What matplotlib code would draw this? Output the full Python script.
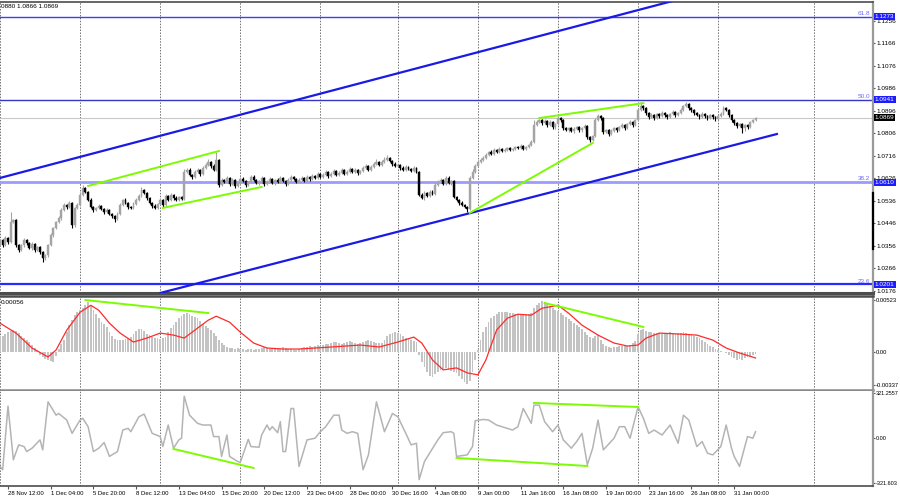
import numpy as np
import matplotlib
matplotlib.use('Agg')
import matplotlib.pyplot as plt
from matplotlib.transforms import blended_transform_factory

plt.rcParams['font.family'] = ['Liberation Sans', 'DejaVu Sans']

# H4 candles, close prices (bar -3 is the cut one at the left edge)
closes = [
    1.0378, 1.0358, 1.0386, 1.0370,
    1.0450, 1.0458,
    1.0358, 1.0338,
    1.0358, 1.0378, 1.0366, 1.0346, 1.0362, 1.0338, 1.0350, 1.0330,
    1.0306, 1.0318,
    1.0358, 1.0398, 1.0426, 1.0450, 1.0466,
    1.0499, 1.0519, 1.0511, 1.0527, 1.0438, 1.0507, 1.0519,
    1.0559, 1.0587, 1.0571,
    1.0539, 1.0511, 1.0499, 1.0507, 1.0515, 1.0503, 1.0491, 1.0499,
    1.0483, 1.0474, 1.0462, 1.0483,
    1.0519, 1.0539, 1.0527, 1.0511, 1.0507, 1.0523, 1.0539,
    1.0555, 1.0579, 1.0567, 1.0547,
    1.0527, 1.0515, 1.0507, 1.0523, 1.0539, 1.0519,
    1.0555, 1.0539, 1.0559, 1.0547, 1.0539, 1.0551, 1.0543,
    1.0651, 1.0659,
    1.0639, 1.0631, 1.0651, 1.0659, 1.0643, 1.0667, 1.0679, 1.0691, 1.0675, 1.0659, 1.0699,
    1.0599, 1.0619,
    1.0611, 1.0627, 1.0603, 1.0619, 1.0595, 1.0607, 1.0623, 1.0615, 1.0599, 1.0611,
    1.0631, 1.0619, 1.0607, 1.0615, 1.0627, 1.0603, 1.0611, 1.0623, 1.0607, 1.0619,
    1.0611, 1.0627, 1.0615, 1.0603, 1.0619, 1.0631, 1.0623, 1.0611, 1.0619,
    1.0627, 1.0615, 1.0631, 1.0623, 1.0635, 1.0627, 1.0643, 1.0631, 1.0639, 1.0651,
    1.0635, 1.0643, 1.0655, 1.0639, 1.0647, 1.0659, 1.0643, 1.0651, 1.0663, 1.0651,
    1.0659, 1.0647, 1.0655, 1.0667, 1.0675, 1.0659, 1.0671, 1.0683, 1.0691, 1.0679,
    1.0691, 1.0699, 1.0707, 1.0695, 1.0683, 1.0675, 1.0679, 1.0667, 1.0659, 1.0671,
    1.0663, 1.0655, 1.0667, 1.0651,
    1.0559,
    1.0547, 1.0567, 1.0555, 1.0571, 1.0563,
    1.0599, 1.0611, 1.0619, 1.0603, 1.0627, 1.0607, 1.0615,
    1.0551, 1.0539, 1.0527, 1.0519, 1.0511, 1.0503,
    1.0627, 1.0651,
    1.0675, 1.0691, 1.0699, 1.0707, 1.0719,
    1.0731, 1.0723, 1.0739, 1.0731, 1.0743, 1.0735, 1.0739, 1.0747, 1.0739, 1.0743,
    1.0751, 1.0747, 1.0755, 1.0743, 1.0751, 1.0759, 1.0771,
    1.0839, 1.0851,
    1.0859, 1.0847, 1.0855, 1.0839, 1.0851, 1.0831, 1.0843,
    1.0867, 1.0859,
    1.0827, 1.0819, 1.0827, 1.0815, 1.0823, 1.0831, 1.0819, 1.0827, 1.0835,
    1.0791, 1.0779, 1.0795,
    1.0859, 1.0875, 1.0867,
    1.0811, 1.0819, 1.0803, 1.0815, 1.0827, 1.0819, 1.0831, 1.0839, 1.0827, 1.0843,
    1.0851, 1.0839, 1.0859,
    1.0899, 1.0915, 1.0907, 1.0887,
    1.0871, 1.0879, 1.0867, 1.0883, 1.0875, 1.0887, 1.0879, 1.0871, 1.0883, 1.0891,
    1.0879, 1.0887, 1.0899,
    1.0915, 1.0923, 1.0907, 1.0899,
    1.0887, 1.0879, 1.0871, 1.0883, 1.0875, 1.0867, 1.0879, 1.0871, 1.0863, 1.0875, 1.0883,
    1.0907, 1.0899, 1.0879, 1.0859,
    1.0847, 1.0835, 1.0843, 1.0827, 1.0839, 1.0831,
    1.0851, 1.0859, 1.0869,
]
first_open = 1.0366

# wick lengths in pips (0.0001)
upper_wick = [
    6, 4, 8, 5,
    40, 6,
    4, 3,
    6, 8, 4, 5, 7, 3, 6, 4,
    5, 6,
    4, 8, 6, 5, 8,
    6, 9, 4, 6, 3, 5, 7,
    10, 12, 5,
    4, 6, 3, 5, 7, 4, 5, 6,
    4, 5, 3, 6,
    8, 5, 6, 4, 5, 7, 6,
    8, 10, 4, 3,
    5, 4, 6, 5, 7, 3,
    8, 5, 7, 4, 6, 5, 4,
    10, 8,
    6, 5, 8, 6, 4, 7, 8, 10, 5, 6, 32,
    3, 6,
    5, 8, 4, 6, 3, 5, 7, 6, 4, 5, 8, 6, 4, 5, 7, 3, 6, 8, 4, 5, 6, 7, 4, 3, 6, 8, 5, 4, 6,
    6, 4, 7, 5, 8, 4, 6, 5, 7, 8, 4, 6, 7, 5, 6, 8, 4, 6, 7, 5, 6, 4, 5, 8, 7, 4, 6, 8, 10, 5,
    8, 10, 12, 5, 4, 6, 5, 4, 6, 7, 5, 4, 6, 5,
    4,
    6, 8, 5, 7, 6,
    10, 8, 6, 5, 8, 6, 5,
    4, 5, 3, 6, 4, 5,
    6, 10,
    8, 6, 7, 8, 6,
    5, 6, 8, 4, 6, 5, 7, 6, 5, 4, 6, 5, 7, 4, 6, 5, 8,
    20, 8,
    6, 4, 8, 5, 7, 4, 6,
    12, 5,
    4, 6, 5, 4, 7, 5, 4, 6, 8,
    3, 5, 6,
    8, 10, 6,
    4, 6, 5, 7, 4, 6, 5, 7, 4, 6, 8, 5, 6,
    10, 16, 6, 4,
    5, 7, 4, 6, 5, 8, 4, 6, 5, 7, 4, 6, 8,
    6, 8, 4, 5,
    5, 6, 4, 7, 5, 4, 6, 5, 4, 6, 8,
    8, 6, 4, 3,
    5, 4, 6, 3, 5, 6,
    6, 5, 4,
]
lower_wick = [
    6, 8, 5, 7,
    4, 5,
    6, 8,
    5, 6, 8, 4, 6, 7, 5, 6,
    16, 6,
    8, 5, 6, 4, 5,
    6, 4, 7, 5, 12, 6, 4,
    5, 4, 6,
    6, 5, 8, 4, 6, 5, 7, 4,
    6, 8, 10, 5,
    4, 6, 5, 7, 4, 5, 6,
    5, 4, 6, 7,
    6, 8, 5, 6, 4, 7,
    5, 6, 4, 7, 5, 6, 5,
    4, 6,
    5, 7, 4, 6, 8, 5, 4, 6, 7, 5, 4,
    8, 5,
    6, 4, 7, 5, 8, 6, 4, 5, 7, 6, 4, 5, 6, 7, 4, 8, 5, 6, 4, 7, 5, 6, 4, 8, 6, 5, 4, 6, 5,
    5, 6, 4, 7, 5, 6, 4, 5, 6, 4, 7, 5, 4, 6, 5, 4, 6, 5, 4, 6, 5, 7, 4, 5, 6, 4, 5, 6, 4, 5,
    5, 4, 6, 5, 7, 6, 5, 8, 6, 4, 5, 6, 5, 4,
    5,
    6, 8, 5, 6, 4,
    5, 4, 6, 5, 4, 6, 8,
    6, 5, 7, 6, 5, 12,
    4, 5,
    4, 5, 6, 4, 5,
    6, 5, 4, 6, 5, 4, 6, 5, 4, 6, 5, 4, 6, 5, 4, 6, 5,
    4, 5,
    5, 6, 4, 6, 5, 8, 6,
    4, 6,
    6, 5, 7, 4, 6, 5, 7, 6, 4,
    6, 8, 5,
    4, 5, 6,
    6, 5, 7, 5, 4, 6, 5, 4, 6, 5, 4, 6, 5,
    4, 5, 6, 8,
    6, 5, 7, 4, 6, 5, 6, 7, 4, 5, 6, 5, 4,
    4, 5, 6, 7,
    6, 5, 8, 4, 6, 7, 5, 6, 8, 5, 4,
    4, 5, 6, 8,
    6, 8, 5, 20, 10, 6,
    5, 4, 5,
]

# MACD histogram, in units of 0.0001
macd_hist = [
    15, 16, 18, 20, 21, 22, 21, 19, 16, 14, 12, 10, 7, 4, 2,
    -3, -5, -7, -8, -9, -10, -4, 3, 8, 12, 20, 27, 32, 37, 40, 42,
    44, 47, 50, 46, 42, 38, 34, 30, 28, 25, 20, 16, 13, 12,
    12, 12, 13, 14, 15, 18, 21, 23, 23, 21, 18, 17,
    15, 14, 14, 13, 14, 15, 20, 24, 27, 30, 34, 36, 38, 39, 38,
    36, 35, 34, 31, 28, 26, 24, 22, 19, 16, 12, 9, 7, 5,
    4, 4, 3, 4, 3, 3, 2, 3, 3, 2, 3, 3, 4, 5, 4, 3, 3, 4,
    4, 3, 5, 4, 3, 3, 2, 2, 3, 4, 5, 5, 6, 5, 6, 7, 6, 7, 8, 8,
    9, 10, 10, 9, 8, 9, 10, 11, 10, 9, 8, 9, 10, 11, 12, 11, 10, 9, 9,
    9, 12, 16, 18, 19, 20, 19, 18, 16, 14, 13, 12, 11, 10,
    -3, -10, -15, -20, -24, -25, -22, -20, -18, -17, -16,
    -18, -19, -20, -21, -24, -27, -30, -32, -29, -20, -8, 2,
    12, 20, 25, 30, 34, 36, 38, 40, 40, 40, 40,
    39, 39, 38, 38, 38, 37, 38, 38, 39, 44, 47, 49, 51, 50,
    48, 46, 44, 42, 41, 39, 37, 35, 33, 31, 29, 27, 25, 23, 20, 17,
    15, 14, 16, 17, 12, 8, 6, 5, 4, 5, 5, 6, 6, 7, 6, 7, 9, 11,
    18, 22, 23, 21, 20, 20, 19, 19,
    19, 18, 19, 19, 20, 19, 18, 19, 19, 20, 19,
    18, 17, 16, 15, 14, 12, 10, 8, 6, 5, 3, 2, 1, 0, -1,
    -3, -5, -6, -8, -7, -8, -6, -5, -4, -3, -2,
]
macd_value = '0.00056'

# MACD signal line (bar, 0.0001 units)
signal_bars = [-3, 3, 9, 15, 18, 22, 27, 31, 34, 38, 42, 47, 52, 57, 62, 66, 69, 75, 78,
               83, 87, 92, 97, 103, 109, 121, 132, 139, 146, 152, 155, 159, 163, 168, 172,
               176, 179, 183, 187, 191, 196, 200, 206, 210, 215, 221, 227, 232, 236, 239,
               244, 252, 258, 264, 269, 274, 280]
signal_vals = [29, 19, 4, -5, 2, 22, 40, 47, 42, 29, 19, 10, 14, 19, 17, 14, 20, 32, 36,
               30, 20, 9, 4, 3, 3, 5, 7, 5, 10, 15, 9, -8, -18, -16, -21,
               -23, -8, 22, 34, 38, 37, 44, 47, 39, 27, 17, 9, 6, 7, 14,
               19, 18, 17, 12, 4, -1, -6]

# CCI, points
cci_bars = [-3, -2, 0, 2, 4, 6, 7, 9, 12, 13, 15, 18, 19, 22, 24, 27, 28, 30, 32, 34,
            36, 38, 41, 43, 45, 46, 49, 51, 54, 57, 58, 60, 62, 64, 65, 66, 68, 71, 73, 76,
            77, 79, 80, 82, 83, 86, 87, 90, 91, 94, 95, 97, 98, 99, 101, 102, 103, 104, 106,
            107, 109, 112, 115, 117, 119, 122, 124, 125, 127, 129, 131, 133, 135, 138, 141,
            144, 146, 149, 151, 153, 154, 156, 161, 163, 166, 167, 168, 172, 174, 175, 178,
            180, 183, 187, 189, 191, 193, 194, 196, 197, 199, 201, 204, 206, 208, 211, 213,
            215, 217, 219, 221, 223, 227, 229, 231, 233, 236, 238, 240, 242, 245, 248, 251,
            253, 255, 258, 260, 262, 264, 267, 269, 271, 272, 274, 277, 279, 280]
cci_vals = [-205, -229, 229, -157, -50, -62, -98, -74, -14, -86, 260, 164, 176, 129, 33,
            129, 141, 81, -98, -74, -33, -133, -98, 57, 69, 45, 152, 172, 33, 10, -62, 93,
            -74, -14, -2, 300, 164, 105, 93, 93, 10, 10, -133, 21, -133, -169, -176, -10,
            -62, -67, 21, 93, 57, 81, 38, 117, -98, -98, 212, 212, -205, -14, -2, 45, 81,
            164, 164, 57, 33, 45, 33, -229, -122, 260, 45, 176, 153, 33, -50, -38, -300,
            -169, -14, 38, 45, 33, -133, -122, -62, 124, 133, 129, 93, 69, 57, 81, 212, 176,
            105, 236, 236, 117, 45, 93, -14, -74, -26, 33, -193, -74, 129, -86, -2, 81, 81,
            -2, 224, 141, 33, 57, 21, 93, -38, 164, 129, -62, -26, -110, -122, -62, 93, -74,
            -133, -205, 10, -2, 45]

time_labels = ['28 Nov 12:00', '1 Dec 04:00', '5 Dec 20:00', '8 Dec 12:00', '13 Dec 04:00',
               '15 Dec 20:00', '20 Dec 12:00', '23 Dec 04:00', '28 Dec 00:00', '30 Dec 16:00',
               '4 Jan 08:00', '9 Jan 00:00', '11 Jan 16:00', '16 Jan 08:00', '19 Jan 00:00',
               '23 Jan 16:00', '26 Jan 08:00', '31 Jan 00:00']
label_bars = [0, 16, 32, 48, 64, 80, 96, 112, 128, 144, 160, 176, 192, 208, 224, 240, 256, 272]
grid_bars = [-3, 27, 57, 87, 117, 146, 176, 206, 236, 266, 302]

price_ticks = [1.1256, 1.1166, 1.1076, 1.0986, 1.0896, 1.0806, 1.0716, 1.0626,
               1.0536, 1.0446, 1.0356, 1.0266, 1.0176]
fib_levels = [1.1273, 1.0941, 1.0610, 1.0201]
fib_names = ['61.8', '50.0', '38.2', '23.6']
last_price = 1.0869
header = '0880 1.0866 1.0869'

channel_up = [(-3, 250), (1.0627, 1.1339)]
channel_dn = [(57, 288), (1.0166, 1.0803)]
green_price = [[(30, 79), (1.0595, 1.0735)],
               [(58, 95), (1.0507, 1.0591)],
               [(173, 219), (1.0487, 1.0767)],
               [(199, 238), (1.0867, 1.0927)]]
green_macd = [[(29, 75), (0.00523, 0.00392)],
              [(201, 238), (0.00493, 0.00252)]]
green_cci = [[(62, 92), (-79, -216)],
             [(168, 217), (-144, -202)],
             [(197, 236), (252, 223)]]

# ---------------------------------------------------------------
closes = np.array(closes)
opens = np.concatenate([[first_open], closes[:-1]])
highs = np.maximum(opens, closes) + np.array(upper_wick) * 1e-4
lows = np.minimum(opens, closes) - np.array(lower_wick) * 1e-4
x = np.arange(len(closes)) - 3

fig = plt.figure(figsize=(9, 5), dpi=100)
fig.patch.set_facecolor('white')
ax1 = fig.add_axes([0, 0.414, 0.97, 0.582])
ax2 = fig.add_axes([0, 0.220, 0.97, 0.188], sharex=ax1)
ax3 = fig.add_axes([0, 0.028, 0.97, 0.190], sharex=ax1)

GRID = dict(color='#707070', lw=0.7, ls=(0, (1.5, 1.5)), zorder=0)
for ax in (ax1, ax2, ax3):
    ax.set_facecolor('white')
    for g in grid_bars:
        ax.axvline(g, **GRID)
    ax.spines['left'].set_visible(False)
    ax.spines['right'].set_color('#9a9a9a')
    ax.spines['right'].set_linewidth(1.6)
    ax.spines['top'].set_color('#4d4d4d')
    ax.spines['bottom'].set_color('#4d4d4d')
    ax.yaxis.tick_right()
    ax.tick_params(axis='y', labelsize=4.6, length=1.5, pad=0.8, colors='black')
    ax.tick_params(axis='y', color='#555555')

ax1.spines['top'].set_linewidth(1.2)
ax1.spines['bottom'].set_linewidth(2.2)
ax2.spines['top'].set_linewidth(1.8)
ax2.spines['bottom'].set_linewidth(1.8)
ax2.spines['bottom'].set_color('#8a8a8a')
ax3.spines['top'].set_visible(False)
ax3.spines['bottom'].set_linewidth(1.2)

ax1.set_xlim(-3.0, 324.0)
ax1.set_ylim(1.0166, 1.1332)
ax2.set_ylim(-0.003823, 0.005633)
ax3.set_ylim(-346, 338)

# ---- price panel
ax1.axhline(last_price, color='#c8c8c8', lw=0.8, zorder=1)
fib_colors = ['#3d3dff', '#3535c8', '#9c9cff', '#2a2aff']
fib_widths = [1.0, 1.0, 2.0, 1.6]
ytrans = blended_transform_factory(ax1.transAxes, ax1.transData)
for lvl, name, c, w in zip(fib_levels, fib_names, fib_colors, fib_widths):
    ax1.axhline(lvl, color=c, lw=w, zorder=1)
    ax1.text(0.997, lvl + 0.0003, name, transform=ytrans, ha='right', va='bottom',
             fontsize=4.6, color='#6a6aff')

bull = closes >= opens
col = np.where(bull, '#a4a4a4', '#000000')
ax1.vlines(x, lows, highs, colors=col, lw=0.8, zorder=3)
body_h = np.maximum(np.abs(closes - opens), 0.00008)
ax1.bar(x, body_h, bottom=np.minimum(opens, closes), width=0.72, color=col,
        edgecolor=col, lw=0.3, zorder=4)

for (bx, by) in (channel_up, channel_dn):
    ax1.plot(bx, by, color='#1a1ae6', lw=1.6, zorder=5)
for bx, by in green_price:
    ax1.plot(bx, by, color='#7cfc00', lw=1.4, zorder=6)

ax1.set_yticks(price_ticks)
ax1.set_yticklabels([f'{t:.4f}' for t in price_ticks])
for lvl in fib_levels:
    ax1.text(1.002, lvl, f'{lvl:.4f}', transform=ytrans, ha='left', va='center',
             fontsize=4.6, color='white', clip_on=False, zorder=10,
             bbox=dict(fc='#1c1cff', ec='none', pad=0.8))
ax1.text(1.002, last_price, f'{last_price:.4f}', transform=ytrans, ha='left', va='center',
         fontsize=4.6, color='white', clip_on=False, zorder=10,
         bbox=dict(fc='#000000', ec='none', pad=0.8))
ax1.plot([1, 1], [0.151, 0.344], transform=ax1.transAxes, color='black', lw=1.6,
         clip_on=False, zorder=11)
ax1.text(0.001, 0.992, header, transform=ax1.transAxes, ha='left', va='top',
         fontsize=4.6, color='black')

# ---- MACD panel
ax2.bar(x, np.array(macd_hist) * 1e-4, width=0.7, color='#c3c3c3', zorder=2)
ax2.plot(signal_bars, np.array(signal_vals) * 1e-4, color='#ff2a2a', lw=0.9, zorder=3)
for bx, by in green_macd:
    ax2.plot(bx, by, color='#7cfc00', lw=1.4, zorder=4)
ax2.set_yticks([0.00523, 0.0, -0.00337])
ax2.set_yticklabels(['0.00523', '0.00', '-0.00337'])
ax2.tick_params(axis='y', labelsize=4.2)
ax2.text(0.001, 0.96, macd_value, transform=ax2.transAxes, ha='left', va='top',
         fontsize=4.6, color='black')

# ---- CCI panel
ax3.plot(cci_bars, cci_vals, color='#b4b4b4', lw=1.1, zorder=2)
for bx, by in green_cci:
    ax3.plot(bx, by, color='#7cfc00', lw=1.4, zorder=3)
ax3.set_yticks([321.2557, 0.0, -321.603])
ax3.set_yticklabels(['321.2557', '0.00', '-321.603'])
ax3.tick_params(axis='y', labelsize=4.0)

for ax in (ax1, ax2):
    ax.tick_params(axis='x', bottom=False, labelbottom=False)
ax3.set_xticks(label_bars)
ax3.set_xticklabels(time_labels)
ax3.tick_params(axis='x', labelsize=4.3, length=2, pad=1.5, color='#555555')
for lbl in ax3.get_xticklabels():
    lbl.set_ha('left')

fig.savefig('out.png', dpi=100)
